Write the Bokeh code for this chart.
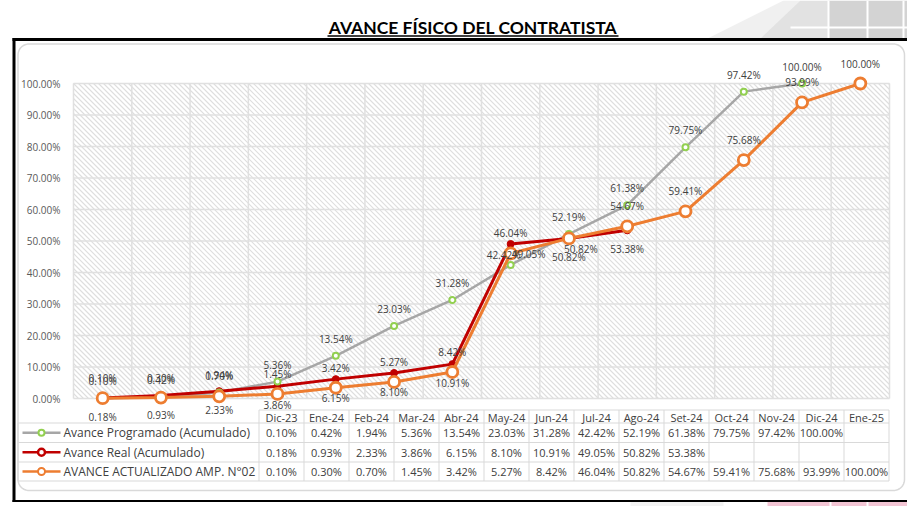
import numpy as np
from bokeh.plotting import figure
from bokeh.models import Range1d, LinearAxis, FixedTicker, PrintfTickFormatter
from bokeh.core.properties import value
from bokeh.embed import file_html
from bokeh.resources import INLINE

# ---- data ---------------------------------------------------------------
months = ["Dic-23", "Ene-24", "Feb-24", "Mar-24", "Abr-24", "May-24", "Jun-24",
          "Jul-24", "Ago-24", "Set-24", "Oct-24", "Nov-24", "Dic-24", "Ene-25"]
series_names = ["Avance Programado (Acumulado)",
                "Avance Real (Acumulado)",
                "AVANCE ACTUALIZADO AMP. N°02"]
programado = [0.10, 0.42, 1.94, 5.36, 13.54, 23.03, 31.28, 42.42, 52.19,
              61.38, 79.75, 97.42, 100.00]
real = [0.18, 0.93, 2.33, 3.86, 6.15, 8.10, 10.91, 49.05, 50.82, 53.38]
actualizado = [0.10, 0.30, 0.70, 1.45, 3.42, 5.27, 8.42, 46.04, 50.82, 54.67,
               59.41, 75.68, 93.99, 100.00]
y_ticks = [0, 10, 20, 30, 40, 50, 60, 70, 80, 90, 100]
title_text = "AVANCE FÍSICO DEL CONTRATISTA"

# ---- page geometry (pixels) ---------------------------------------------
W, H = 907, 506
PLOT_L, PLOT_R, PLOT_T, PLOT_B = 73, 889, 83, 398
n = len(months)
sx = (PLOT_R - PLOT_L) / n
sy = (PLOT_B - PLOT_T) / 100.0

x_range = Range1d(-0.5 - PLOT_L / sx, n - 0.5 + (W - PLOT_R) / sx)
y_range = Range1d(-(H - PLOT_B) / sy, 100 + PLOT_T / sy)

p = figure(width=W, height=H, x_range=x_range, y_range=y_range,
           output_backend="svg", toolbar_location=None, min_border=0,
           x_axis_type=None, y_axis_type=None)
p.extra_x_ranges = {"px": Range1d(0, W)}
p.extra_y_ranges = {"py": Range1d(H, 0)}
p.grid.visible = False
p.outline_line_color = None
p.background_fill_color = "white"
p.border_fill_color = "white"

PX = dict(x_range_name="px", y_range_name="py")
FONT = value("Open Sans")

# ---- page artwork behind the chart --------------------------------------
p.patch([707, 783, 800, 800, 720], [38, 0, 0, 38, 38], fill_color="#f0f0f0", line_color=None, **PX)
p.patch([760, 800, 828, 828], [38, 0, 0, 38], fill_color="#e2e2e2", line_color=None, **PX)
p.patch([828, 907, 907, 828], [0, 0, 38, 38], fill_color="#d3d3d3", line_color=None, **PX)
p.segment(x0=[828, 867, 903, 790], y0=[0, 0, 0, 27], x1=[828, 867, 903, 907], y1=[38, 38, 38, 27],
          line_color="white", line_width=2, **PX)
p.quad(left=[630], right=[723], top=[501], bottom=[506], fill_color="#f3f3f3", line_color=None, **PX)
p.quad(left=[767], right=[907], top=[501], bottom=[506], fill_color="#f3c5d4", line_color=None, **PX)
p.segment(x0=[830, 867], y0=[501, 501], x1=[830, 867], y1=[506, 506], line_color="white", line_width=2, **PX)

# title with underline
p.text(x=[472.5], y=[26.5], text=[title_text], text_font=value("Lato"), text_font_style="bold",
       text_font_size="17.5px", text_color="#000000", text_align="center",
       text_baseline="middle", **PX)
p.segment(x0=[327], y0=[35.5], x1=[618], y1=[35.5], line_color="#000000", line_width=1.5, **PX)

# black frame
p.segment(x0=[12, 13.5, 12], y0=[39, 37.5, 500.5], x1=[907, 13.5, 907], y1=[39, 501.5, 500.5],
          line_color="#000000", line_width=[3, 3, 2], **PX)


def rounded_rect(x0, y0, x1, y1, r, steps=12):
    xs, ys = [], []
    corners = [(x1 - r, y0 + r, -90, 0), (x1 - r, y1 - r, 0, 90),
               (x0 + r, y1 - r, 90, 180), (x0 + r, y0 + r, 180, 270)]
    for cx, cy, a0, a1 in corners:
        t = np.radians(np.linspace(a0, a1, steps))
        xs.extend(cx + r * np.cos(t))
        ys.extend(cy + r * np.sin(t))
    xs.append(xs[0])
    ys.append(ys[0])
    return xs, ys


rx, ry = rounded_rect(17.5, 43.5, 904, 490, 11)
p.line(rx, ry, line_color="#d9d9d9", line_width=1.5, **PX)

# ---- plot area: diagonal hatch --------------------------------------------
hx0, hy0, hx1, hy1 = [], [], [], []
for c in np.arange(PLOT_L - PLOT_B, PLOT_R - PLOT_T, 5.0):
    ya = max(PLOT_T, PLOT_L - c)
    yb = min(PLOT_B, PLOT_R - c)
    if yb <= ya:
        continue
    hx0.append(ya + c); hy0.append(ya)
    hx1.append(yb + c); hy1.append(yb)
p.segment(x0=hx0, y0=hy0, x1=hx1, y1=hy1, line_color="#dedede", line_width=1.1, **PX)

grid_color = "#e0e0e0"
p.segment(x0=[-0.5] * len(y_ticks), x1=[n - 0.5] * len(y_ticks), y0=y_ticks, y1=y_ticks,
          line_color=grid_color, line_width=1.5)
vx = [i - 0.5 for i in range(n + 1)]
p.segment(x0=vx, x1=vx, y0=[0] * len(vx), y1=[100] * len(vx), line_color=grid_color, line_width=1.5)

yax = LinearAxis(ticker=FixedTicker(ticks=y_ticks), formatter=PrintfTickFormatter(format="%.2f%%"),
                 fixed_location=-0.5, bounds=(0, 100))
yax.axis_line_color = None
yax.major_tick_line_color = None
yax.minor_tick_line_color = None
yax.major_label_text_font = "Open Sans"
yax.major_label_text_font_size = "10px"
yax.major_label_text_color = "#595959"
yax.major_label_standoff = 7
p.add_layout(yax, "left")

GREY, GREEN, RED, ORANGE = "#a6a6a6", "#92d050", "#c00000", "#ed7d31"

xp = list(range(len(programado)))
xr = list(range(len(real)))
xa = list(range(len(actualizado)))

p.line(xp, programado, line_color=GREY, line_width=2.5)
p.line(xr, real, line_color=RED, line_width=3)
p.scatter(xr, real, size=7, marker="circle", fill_color=RED, line_color=RED, line_width=1)
p.scatter(xp, programado, size=6, marker="circle", fill_color="white", line_color=GREEN, line_width=2)
p.line(xa, actualizado, line_color=ORANGE, line_width=3)
p.scatter(xa, actualizado, size=11, marker="circle", fill_color="white", line_color=ORANGE, line_width=2.8)

# data labels: offsets in screen pixels
dx_p = [0] * len(programado); dy_p = [-17] * len(programado)
dx_p[7], dy_p[7] = -7, -10
dx_r = [0] * len(real); dy_r = [19] * len(real)
dx_r[7], dy_r[7] = 18, 10
dx_a = [0] * len(actualizado); dy_a = [-20] * len(actualizado)
dx_a[8], dy_a[8] = 12, 11

LABEL = dict(text_font=FONT, text_font_size="10px", text_color="#404040",
             text_align="center", text_baseline="middle")
p.text(xp, programado, text=[f"{v:.2f}%" for v in programado], x_offset=dx_p, y_offset=dy_p, **LABEL)
p.text(xr, real, text=[f"{v:.2f}%" for v in real], x_offset=dx_r, y_offset=dy_r, **LABEL)
p.text(xa, actualizado, text=[f"{v:.2f}%" for v in actualizado], x_offset=dx_a, y_offset=dy_a, **LABEL)

# ---- data table ------------------------------------------------------------
T_L, T_C0, T_W = 17.5, 258.5, 45
T_HEAD, T_ROWS = 409.5, [422.5, 442, 461.5, 480.5]
cols_x = [T_C0 + T_W * i for i in range(n + 1)]
T_R = cols_x[-1]
tcol = "#d9d9d9"
p.segment(x0=[T_C0] + [T_L] * 4, x1=[T_R] * 5, y0=[T_HEAD] + T_ROWS, y1=[T_HEAD] + T_ROWS,
          line_color=tcol, line_width=1, **PX)
p.segment(x0=cols_x, x1=cols_x, y0=[T_HEAD] * len(cols_x), y1=[T_ROWS[-1]] * len(cols_x),
          line_color=tcol, line_width=1, **PX)
p.segment(x0=[T_L], x1=[T_L], y0=[T_ROWS[0]], y1=[T_ROWS[-1]], line_color=tcol, line_width=1, **PX)

centers = [T_C0 + T_W * (i + 0.5) for i in range(n)]
CELL = dict(text_font=FONT, text_font_size="11px", text_color="#404040",
            text_align="center", text_baseline="middle", **PX)
p.text(centers, [(T_HEAD + T_ROWS[0]) / 2 + 1] * n, text=months, **CELL)

row_mid = [(T_ROWS[i] + T_ROWS[i + 1]) / 2 for i in range(3)]
for r, vals in enumerate([programado, real, actualizado]):
    p.text(centers[:len(vals)], [row_mid[r]] * len(vals), text=[f"{v:.2f}%" for v in vals], **CELL)

p.text([63] * 3, row_mid, text=series_names, text_font=FONT, text_font_size="12px",
       text_color="#404040", text_align="left", text_baseline="middle", **PX)

# legend keys inside the table
key_colors = [GREY, RED, ORANGE]
p.segment(x0=[22] * 3, x1=[60] * 3, y0=row_mid, y1=row_mid, line_color=key_colors, line_width=2.5, **PX)
p.scatter([41], [row_mid[0]], size=6, fill_color="white", line_color=GREEN, line_width=2, **PX)
p.scatter([41], [row_mid[1]], size=7, fill_color="white", line_color=RED, line_width=2.5, **PX)
p.scatter([41], [row_mid[2]], size=7, fill_color="white", line_color=ORANGE, line_width=2, **PX)

open("out.html", "w").write(file_html(p, INLINE))
